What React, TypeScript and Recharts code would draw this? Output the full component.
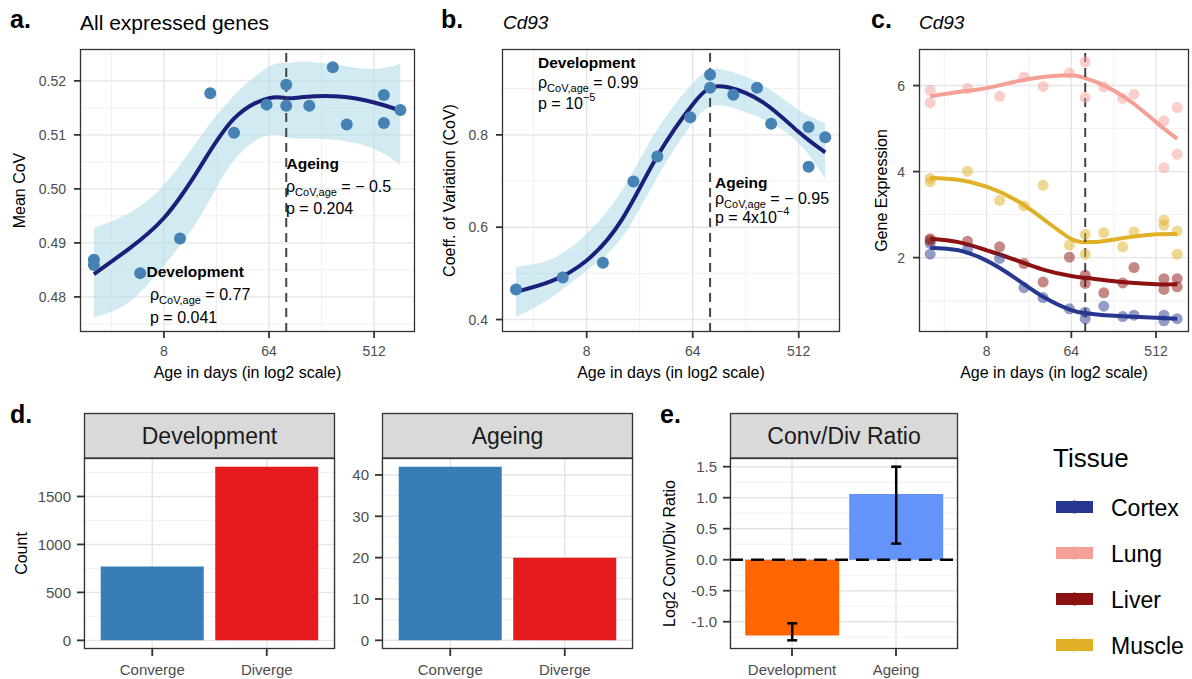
import React from "react";
import {
  ComposedChart,
  BarChart,
  Bar,
  Line,
  Area,
  Scatter,
  XAxis,
  YAxis,
  CartesianGrid,
  ReferenceLine,
  Cell,
  ErrorBar,
} from "recharts";

const FONT = '"Liberation Sans", Arial, Helvetica, sans-serif';

// shared age axis (days, log2 scale)
const ageTicks = [8, 64, 512];
const ageMinor = [2.83, 22.6, 181];
const ageDomain = [1.52, 1150];
const splitAge = 90;

const smoothAges = [2, 4, 8, 16, 32, 64, 90, 128, 256, 512, 861];

// panel a: all expressed genes
const agesA = [2, 2, 5, 11, 20, 32, 61, 90, 90, 142, 226, 298, 621, 621, 861];
const meanCoV = [0.4869, 0.4859, 0.4844, 0.4908, 0.5177, 0.5104, 0.5156, 0.5193, 0.5154, 0.5154, 0.5225, 0.5119, 0.5174, 0.5122, 0.5146];
const fitA = [0.4842, 0.4889, 0.4946, 0.5037, 0.513, 0.5168, 0.5168, 0.517, 0.5171, 0.516, 0.5145];
const upperA = [0.4928, 0.4955, 0.5007, 0.5093, 0.5173, 0.5226, 0.5233, 0.5236, 0.5229, 0.5222, 0.5232];
const lowerA = [0.4762, 0.479, 0.4858, 0.4945, 0.5053, 0.51, 0.5095, 0.5093, 0.509, 0.5074, 0.5045];

// panel b: Cd93 CoV
const agesB = [2, 5, 11, 20, 32, 61, 90, 90, 142, 226, 298, 621, 621, 861];
const cd93CoV = [0.465, 0.491, 0.523, 0.699, 0.753, 0.838, 0.93, 0.902, 0.887, 0.902, 0.824, 0.817, 0.731, 0.795];
const fitB = [0.46, 0.483, 0.528, 0.617, 0.754, 0.866, 0.902, 0.903, 0.87, 0.806, 0.762];
const upperB = [0.514, 0.531, 0.586, 0.68, 0.812, 0.912, 0.941, 0.939, 0.907, 0.854, 0.826];
const lowerB = [0.406, 0.448, 0.506, 0.578, 0.709, 0.826, 0.861, 0.861, 0.834, 0.782, 0.705];

// panel c: Cd93 expression per tissue
const tissues = ["Cortex", "Lung", "Liver", "Muscle"];
const tissueColors = ["#27378f", "#f5a097", "#8b1210", "#e0b126"];
const tissueAges = [
  [2, 2, 5, 11, 20, 32, 61, 90, 90, 142, 226, 298, 621, 621, 861],
  [2, 2, 5, 11, 20, 32, 61, 90, 90, 142, 226, 298, 621, 621, 861, 861],
  [2, 2, 5, 11, 20, 32, 61, 90, 90, 142, 226, 298, 621, 621, 861, 861],
  [2, 2, 5, 11, 20, 32, 61, 90, 90, 142, 226, 298, 621, 621, 861, 861],
];
const tissueExpr = [
  [2.08, 2.33, 2.19, 1.98, 1.3, 1.07, 0.81, 0.58, 0.73, 0.87, 0.63, 0.66, 0.66, 0.53, 0.58],
  [5.89, 5.6, 5.93, 5.75, 6.2, 5.98, 6.29, 6.55, 5.72, 5.97, 5.7, 5.8, 5.18, 4.09, 5.49, 4.4],
  [2.44, 2.4, 2.38, 2.25, 1.86, 1.43, 2.01, 1.59, 1.4, 1.18, 1.41, 1.77, 1.51, 1.26, 1.51, 1.32],
  [3.84, 3.76, 4.01, 3.33, 3.2, 3.68, 2.29, 2.54, 2.08, 2.58, 2.25, 2.6, 2.87, 2.75, 2.62, 2.08],
];
const tissueFits = [
  [2.23, 2.17, 1.93, 1.53, 1.09, 0.78, 0.71, 0.67, 0.63, 0.6, 0.58],
  [5.75, 5.85, 5.94, 6.09, 6.2, 6.24, 6.17, 6.05, 5.68, 5.15, 4.76],
  [2.44, 2.36, 2.17, 1.95, 1.72, 1.57, 1.53, 1.49, 1.42, 1.38, 1.38],
  [3.85, 3.81, 3.65, 3.35, 2.9, 2.43, 2.36, 2.37, 2.47, 2.54, 2.55],
];

// panel d
const directions = ["Converge", "Diverge"];
const directionColors = ["#377eb8", "#e41a1c"];
const devCounts = [770, 1810];
const ageingCounts = [42, 20];

// panel e
const stages = ["Development", "Ageing"];
const log2Ratio = [-1.224, 1.06];
const ratioLow = [-1.3, 0.26];
const ratioHigh = [-1.026, 1.5];
const stageColors = ["#ff6600", "#6494fa"];

const NAVY = "#1c1f7a";
const POINT = "#4682b4";

type Rect = { x: number; y: number; w: number; h: number };
const PLOT: Record<string, Rect> = {
  a: { x: 80, y: 49, w: 335, h: 283 },
  b: { x: 502, y: 49, w: 338, h: 283 },
  c: { x: 919, y: 49, w: 270, h: 283 },
  dDev: { x: 84, y: 458, w: 251, h: 191 },
  dAge: { x: 382, y: 458, w: 251, h: 191 },
  e: { x: 730, y: 458, w: 228, h: 191 },
};
const BOX: Record<string, Rect> = {
  a: { x: 0, y: 0, w: 425, h: 390 },
  b: { x: 425, y: 0, w: 425, h: 390 },
  c: { x: 850, y: 0, w: 342, h: 390 },
  dDev: { x: 0, y: 458, w: 345, h: 221 },
  dAge: { x: 345, y: 458, w: 300, h: 221 },
  e: { x: 650, y: 458, w: 320, h: 221 },
};

function frame(id: string) {
  const b = BOX[id];
  const p = PLOT[id];
  return {
    margin: { top: p.y - b.y, right: b.x + b.w - (p.x + p.w), bottom: 0, left: 0 },
    yWidth: p.x - b.x,
    xHeight: b.y + b.h - (p.y + p.h),
  };
}

const pts = (ages: number[], vals: number[]) => ages.map((age, i) => ({ age, y: vals[i] }));
const band = (lo: number[], hi: number[]) => smoothAges.map((age, i) => ({ age, band: [lo[i], hi[i]] }));

const dot = (r: number, fill: string, opacity: number) => (p: any) =>
  <circle cx={p.cx} cy={p.cy} r={r} fill={fill} fillOpacity={opacity} />;

const tickStyle = { fill: "#4d4d4d", fontSize: 14 };
const tickLineStyle = { stroke: "#333", strokeWidth: 1.8 };

function TrendChart(props: {
  id: string;
  yDomain: number[];
  yTicks: number[];
  yMinor: number[];
  yFormat: (v: number) => string;
  children: React.ReactNode;
}) {
  const { id, yDomain, yTicks, yMinor, yFormat, children } = props;
  const f = frame(id);
  const b = BOX[id];
  return (
    <div style={{ position: "absolute", left: b.x, top: b.y }}>
      <ComposedChart width={b.w} height={b.h} margin={f.margin}>
        <CartesianGrid stroke="#eeeeee" strokeWidth={0.9} horizontalValues={yMinor} verticalValues={ageMinor} />
        <CartesianGrid stroke="#e5e5e5" strokeWidth={1.4} horizontalValues={yTicks} verticalValues={ageTicks} />
        <XAxis
          dataKey="age"
          type="number"
          scale="log"
          domain={ageDomain}
          ticks={ageTicks}
          interval={0}
          allowDataOverflow
          height={f.xHeight}
          axisLine={false}
          tickSize={6}
          tickMargin={8}
          tickLine={tickLineStyle}
          tick={tickStyle}
        />
        <YAxis
          type="number"
          domain={yDomain}
          ticks={yTicks}
          interval={0}
          allowDataOverflow
          width={f.yWidth}
          axisLine={false}
          tickSize={6}
          tickMargin={8}
          tickLine={tickLineStyle}
          tick={tickStyle}
          tickFormatter={yFormat}
        />
        {children}
      </ComposedChart>
    </div>
  );
}

function CountChart(props: { id: string; counts: number[]; yDomain: number[]; yTicks: number[]; yMinor: number[] }) {
  const { id, counts, yDomain, yTicks, yMinor } = props;
  const f = frame(id);
  const b = BOX[id];
  const data = directions.map((name, i) => ({ name, count: counts[i] }));
  return (
    <div style={{ position: "absolute", left: b.x, top: b.y }}>
      <BarChart width={b.w} height={b.h} margin={f.margin} data={data} barCategoryGap="5%">
        <CartesianGrid stroke="#eeeeee" strokeWidth={0.9} vertical={false} horizontalValues={yMinor} />
        <CartesianGrid stroke="#e5e5e5" strokeWidth={1.4} horizontalValues={yTicks} />
        <XAxis
          dataKey="name"
          padding={{ left: 11, right: 11 }}
          interval={0}
          height={f.xHeight}
          axisLine={false}
          tickSize={7}
          tickMargin={8}
          tickLine={tickLineStyle}
          tick={{ fill: "#4d4d4d", fontSize: 15 }}
        />
        <YAxis
          type="number"
          domain={yDomain}
          ticks={yTicks}
          interval={0}
          allowDataOverflow
          width={f.yWidth}
          axisLine={false}
          tickSize={7}
          tickMargin={6}
          tickLine={tickLineStyle}
          tick={{ fill: "#4d4d4d", fontSize: 15 }}
        />
        <Bar dataKey="count" isAnimationActive={false}>
          {data.map((d, i) => (
            <Cell key={d.name} fill={directionColors[i]} />
          ))}
        </Bar>
      </BarChart>
    </div>
  );
}

function RatioChart() {
  const id = "e";
  const f = frame(id);
  const b = BOX[id];
  const data = stages.map((stage, i) => ({
    stage,
    ratio: log2Ratio[i],
    err: [log2Ratio[i] - ratioLow[i], ratioHigh[i] - log2Ratio[i]],
  }));
  const yTicks = [-1, -0.5, 0, 0.5, 1, 1.5];
  const yMinor = [-1.25, -0.75, -0.25, 0.25, 0.75, 1.25];
  return (
    <div style={{ position: "absolute", left: b.x, top: b.y }}>
      <BarChart width={b.w} height={b.h} margin={f.margin} data={data} barCategoryGap="5%">
        <CartesianGrid stroke="#eeeeee" strokeWidth={0.9} vertical={false} horizontalValues={yMinor} />
        <CartesianGrid stroke="#e5e5e5" strokeWidth={1.4} horizontalValues={yTicks} />
        <XAxis
          dataKey="stage"
          padding={{ left: 10, right: 10 }}
          interval={0}
          height={f.xHeight}
          axisLine={false}
          tickSize={7}
          tickMargin={8}
          tickLine={tickLineStyle}
          tick={{ fill: "#4d4d4d", fontSize: 15 }}
        />
        <YAxis
          type="number"
          domain={[-1.44, 1.64]}
          ticks={yTicks}
          interval={0}
          allowDataOverflow
          width={f.yWidth}
          axisLine={false}
          tickSize={7}
          tickMargin={6}
          tickLine={tickLineStyle}
          tick={{ fill: "#4d4d4d", fontSize: 15 }}
          tickFormatter={(v: number) => v.toFixed(1)}
        />
        <Bar dataKey="ratio" isAnimationActive={false}>
          {data.map((d, i) => (
            <Cell key={d.stage} fill={stageColors[i]} />
          ))}
          <ErrorBar dataKey="err" width={5} stroke="#000" strokeWidth={2.5} direction="y" />
        </Bar>
        <ReferenceLine y={0} stroke="#000" strokeWidth={2.5} strokeDasharray="13 8" />
      </BarChart>
    </div>
  );
}

function Overlay() {
  const sub = (s: string) => (
    <tspan fontSize={11} dy={4}>
      {s}
    </tspan>
  );
  const border = (id: string) => {
    const p = PLOT[id];
    return <rect key={id} x={p.x + 0.5} y={p.y + 0.5} width={p.w - 1} height={p.h - 1} fill="none" stroke="#333" strokeWidth={1.3} />;
  };
  const strip = (id: string, label: string) => {
    const p = PLOT[id];
    return (
      <g key={"s" + id}>
        <rect x={p.x + 0.5} y={413.5} width={p.w - 1} height={44.5} fill="#d9d9d9" stroke="#333" strokeWidth={1.3} />
        <text x={p.x + p.w / 2} y={444} fontSize={23} textAnchor="middle" fill="#1a1a1a">
          {label}
        </text>
      </g>
    );
  };
  const legendRows = [507, 553, 599, 645];
  return (
    <svg
      width={1192}
      height={679}
      style={{ position: "absolute", left: 0, top: 0, pointerEvents: "none", fontFamily: FONT }}
    >
      {["a", "b", "c", "dDev", "dAge", "e"].map(border)}
      {strip("dDev", "Development")}
      {strip("dAge", "Ageing")}
      {strip("e", "Conv/Div Ratio")}

      <text x={10} y={28} fontSize={25} fontWeight="bold">a.</text>
      <text x={80} y={30} fontSize={21}>All expressed genes</text>
      <text x={441} y={28} fontSize={25} fontWeight="bold">b.</text>
      <text x={503} y={28.5} fontSize={19} fontStyle="italic">Cd93</text>
      <text x={871} y={28} fontSize={25} fontWeight="bold">c.</text>
      <text x={919} y={28.5} fontSize={19} fontStyle="italic">Cd93</text>
      <text x={10} y={423} fontSize={25} fontWeight="bold">d.</text>
      <text x={660} y={423} fontSize={25} fontWeight="bold">e.</text>

      {/* axis titles */}
      <text x={247.5} y={378} fontSize={16} textAnchor="middle">Age in days (in log2 scale)</text>
      <text x={671} y={378} fontSize={16} textAnchor="middle">Age in days (in log2 scale)</text>
      <text x={1054} y={378} fontSize={16} textAnchor="middle">Age in days (in log2 scale)</text>
      <text transform="translate(25,190.5) rotate(-90)" fontSize={16} textAnchor="middle">Mean CoV</text>
      <text transform="translate(454.5,190.5) rotate(-90)" fontSize={16} textAnchor="middle">Coeff. of Variation (CoV)</text>
      <text transform="translate(886.5,190.5) rotate(-90)" fontSize={16} textAnchor="middle">Gene Expression</text>
      <text transform="translate(27,553.5) rotate(-90)" fontSize={16} textAnchor="middle">Count</text>
      <text transform="translate(675,553.5) rotate(-90)" fontSize={16} textAnchor="middle">Log2 Conv/Div Ratio</text>

      {/* panel a annotations */}
      <text x={146.5} y={277} fontSize={15.5} fontWeight="bold">Development</text>
      <text x={150} y={300} fontSize={16}>ρ{sub("CoV,age")}<tspan dy={-4}> = 0.77</tspan></text>
      <text x={150} y={322.5} fontSize={16}>p = 0.041</text>
      <text x={286.5} y={169} fontSize={15.5} fontWeight="bold">Ageing</text>
      <text x={286} y={192} fontSize={16}>ρ{sub("CoV,age")}<tspan dy={-4}> = − 0.5</tspan></text>
      <text x={286} y={214} fontSize={16}>p = 0.204</text>

      {/* panel b annotations */}
      <text x={538} y={68} fontSize={15.5} fontWeight="bold">Development</text>
      <text x={538} y={87.5} fontSize={16}>ρ{sub("CoV,age")}<tspan dy={-4}> = 0.99</tspan></text>
      <text x={538} y={109} fontSize={16}>p = 10<tspan fontSize={11} dy={-8}>−5</tspan></text>
      <text x={715} y={188} fontSize={15.5} fontWeight="bold">Ageing</text>
      <text x={715} y={204} fontSize={16}>ρ{sub("CoV,age")}<tspan dy={-4}> = − 0.95</tspan></text>
      <text x={715} y={223} fontSize={16}>p = 4x10<tspan fontSize={11} dy={-8}>−4</tspan></text>

      {/* tissue legend */}
      <text x={1053} y={467} fontSize={26}>Tissue</text>
      {tissues.map((t, i) => (
        <g key={t}>
          <rect x={1056} y={legendRows[i] - 6} width={37} height={12} fill={tissueColors[i]} />
          <circle cx={1074.5} cy={legendRows[i]} r={6.5} fill={tissueColors[i]} />
          <text x={1111} y={legendRows[i] + 8.5} fontSize={23}>{t}</text>
        </g>
      ))}
    </svg>
  );
}

export default function App() {
  const curveA = pts(smoothAges, fitA);
  const curveB = pts(smoothAges, fitB);
  return (
    <div style={{ position: "absolute", left: 0, top: 0, width: 1192, height: 679, background: "#fff", fontFamily: FONT }}>
      <TrendChart
        id="a"
        yDomain={[0.4735, 0.5259]}
        yTicks={[0.48, 0.49, 0.5, 0.51, 0.52]}
        yMinor={[0.475, 0.485, 0.495, 0.505, 0.515, 0.525]}
        yFormat={(v) => v.toFixed(2)}
      >
        <Area data={band(lowerA, upperA)} dataKey="band" type="natural" stroke="none" fill="#add8e6" fillOpacity={0.55} isAnimationActive={false} />
        <Line data={curveA} dataKey="y" type="natural" stroke={NAVY} strokeWidth={4} dot={false} isAnimationActive={false} />
        <ReferenceLine x={splitAge} stroke="#444" strokeWidth={2} strokeDasharray="9 6" />
        <Scatter data={pts(agesA, meanCoV)} dataKey="y" fill={POINT} shape={dot(6, POINT, 1)} isAnimationActive={false} />
      </TrendChart>

      <TrendChart
        id="b"
        yDomain={[0.373, 0.986]}
        yTicks={[0.4, 0.6, 0.8]}
        yMinor={[0.5, 0.7, 0.9]}
        yFormat={(v) => v.toFixed(1)}
      >
        <Area data={band(lowerB, upperB)} dataKey="band" type="natural" stroke="none" fill="#add8e6" fillOpacity={0.55} isAnimationActive={false} />
        <Line data={curveB} dataKey="y" type="natural" stroke={NAVY} strokeWidth={4} dot={false} isAnimationActive={false} />
        <ReferenceLine x={splitAge} stroke="#444" strokeWidth={2} strokeDasharray="9 6" />
        <Scatter data={pts(agesB, cd93CoV)} dataKey="y" fill={POINT} shape={dot(6, POINT, 1)} isAnimationActive={false} />
      </TrendChart>

      <TrendChart
        id="c"
        yDomain={[0.27, 6.85]}
        yTicks={[2, 4, 6]}
        yMinor={[1, 3, 5]}
        yFormat={(v) => String(v)}
      >
        {tissues.map((t, i) => (
          <Scatter
            key={"p" + t}
            data={pts(tissueAges[i], tissueExpr[i])}
            dataKey="y"
            fill={tissueColors[i]}
            shape={dot(5.5, tissueColors[i], 0.5)}
            isAnimationActive={false}
          />
        ))}
        {tissues.map((t, i) => (
          <Line
            key={"l" + t}
            data={pts(smoothAges, tissueFits[i])}
            dataKey="y"
            type="natural"
            stroke={tissueColors[i]}
            strokeWidth={4}
            dot={false}
            isAnimationActive={false}
          />
        ))}
        <ReferenceLine x={splitAge} stroke="#444" strokeWidth={2} strokeDasharray="9 6" />
      </TrendChart>

      <CountChart id="dDev" counts={devCounts} yDomain={[-90, 1901]} yTicks={[0, 500, 1000, 1500]} yMinor={[250, 750, 1250, 1750]} />
      <CountChart id="dAge" counts={ageingCounts} yDomain={[-2.1, 44.1]} yTicks={[0, 10, 20, 30, 40]} yMinor={[5, 15, 25, 35]} />
      <RatioChart />
      <Overlay />
    </div>
  );
}
